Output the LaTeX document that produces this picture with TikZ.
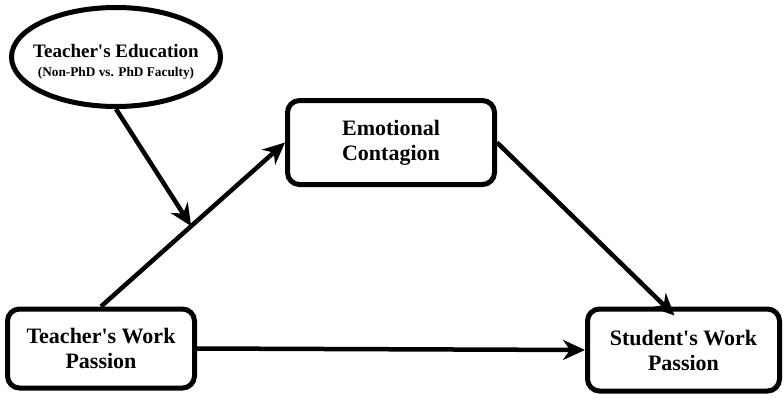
\documentclass[tikz,border=0pt]{standalone}
\usepackage{fontspec}
\newfontfamily\tnr{Liberation Serif}
\usetikzlibrary{shapes.geometric,arrows.meta}
\begin{document}
\begin{tikzpicture}[x=1pt,y=-1pt,
  box/.style={draw=black,line width=5pt,rounded corners=12pt,align=center,inner sep=0pt,font=\tnr\fontsize{22}{25}\selectfont\bfseries},
  oval/.style={draw=black,line width=5pt,ellipse,inner sep=0pt},
  lbl/.style={inner sep=0pt},
  arr/.style={line width=4.5pt,-{Stealth[length=22pt,width=20pt,inset=7pt]}}]
\useasboundingbox (0,0) rectangle (784,400);
\node[oval,minimum width=209pt,minimum height=99pt] (ell) at (116,57) {};
\node[lbl,anchor=base,font=\tnr\fontsize{19}{22}\selectfont\bfseries] (ellt) at (116,57) {Teacher's Education};
\node[lbl,anchor=base,font=\tnr\fontsize{13.3}{16}\selectfont\bfseries] (ells) at (116,76) {(Non-PhD vs. PhD Faculty)};
\node[box,minimum width=207pt,minimum height=84pt] (ec) at (391,142.5) {Emotional\\Contagion};
\node[box,minimum width=187pt,minimum height=79pt] (twp) at (101,348.5) {Teacher's Work\\Passion};
\node[box,minimum width=192pt,minimum height=82pt] (swp) at (683.5,350) {Student's Work\\Passion};
\path (twp.north) -- (ec.west) coordinate[pos=0.49] (m);
\coordinate (swpin) at ([xshift=-9pt,yshift=-9pt]swp.north);
\draw[arr] (twp.north) -- (ec.west);
\draw[arr] (twp.east) -- (swp.west);
\draw[arr] (ec.east) -- (swpin);
\draw[arr] (ell.south) -- (m);
\end{tikzpicture}
\end{document}
